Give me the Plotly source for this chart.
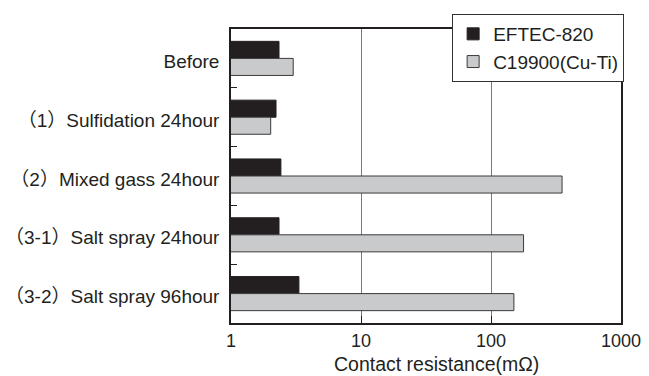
import plotly.graph_objects as go

categories = ["Before", "（1）Sulfidation 24hour", "（2）Mixed gass 24hour",
              "（3-1）Salt spray 24hour", "（3-2）Salt spray 96hour"]
eftec_820 = [2.34, 2.22, 2.42, 2.34, 3.33]
c19900 = [3.01, 2.02, 352, 178, 150]
x_ticks = [1, 10, 100, 1000]
x_tick_labels = ["1", "10", "100", "1000"]
series_names = ["EFTEC-820", "C19900(Cu-Ti)"]
x_title = "Contact resistance(mΩ)"

FONT = "Liberation Sans, Arial, Noto Sans CJK JP, sans-serif"
DARK = "#231f20"

fig = go.Figure()
fig.add_trace(go.Bar(y=categories, x=eftec_820, name=series_names[0], orientation="h",
                     marker=dict(color=DARK, line=dict(color=DARK, width=1))))
fig.add_trace(go.Bar(y=categories, x=c19900, name=series_names[1], orientation="h",
                     marker=dict(color="#c9cacb", line=dict(color="#3a3a3a", width=1))))

fig.update_layout(
    width=649, height=376,
    margin=dict(l=231, r=28, t=29, b=53, autoexpand=False),
    paper_bgcolor="white", plot_bgcolor="white",
    font=dict(family=FONT, size=18, color=DARK),
    barmode="group", bargap=0.42, bargroupgap=0,
    legend=dict(x=0.567, y=1.051, xanchor="left", yanchor="top",
                bgcolor="white", bordercolor="#333333", borderwidth=1,
                font=dict(size=19), traceorder="normal"),
    xaxis=dict(type="log", range=[0, 3], tickvals=x_ticks, ticktext=x_tick_labels,
               showgrid=True, gridcolor="#7a7a7a", gridwidth=1,
               showline=True, linecolor=DARK, linewidth=1.5, mirror=True,
               ticks="inside", ticklen=7, tickcolor=DARK,
               tickfont=dict(size=18), ticklabelstandoff=1,
               zeroline=False, automargin=False),
    yaxis=dict(type="category", autorange="reversed",
               showline=True, linecolor=DARK, linewidth=1.5, mirror=True,
               ticks="inside", ticklen=6, tickcolor=DARK, tickson="boundaries",
               showgrid=False, tickfont=dict(size=19), ticklabelstandoff=6,
               ticklabelshift=-3, automargin=False),
    annotations=[dict(text=x_title, xref="paper", yref="paper", x=0.528, y=-0.138,
                      xanchor="center", yanchor="middle", showarrow=False,
                      font=dict(size=19.5, family=FONT, color=DARK))],
)

fig.write_html("out.html")
